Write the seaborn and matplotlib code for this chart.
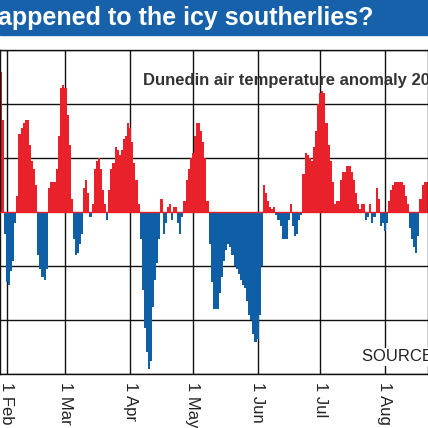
import matplotlib
matplotlib.use("Agg")
import matplotlib.pyplot as plt
import seaborn as sns
import numpy as np

# day-of-year 28 .. 232 (2016), anomaly in degC
start_day = 28
anomaly = [
    5.2, 3.4, -0.8,
    # Feb
    -2.6, -2.7, -2.2, -1.8, -0.4, 0.6, 2.9, 3.1, 3.3, 3.4, 3.4, 2.5, 1.9, 1.6,
    1.0, -1.6, -2.1, -2.4, -2.5, -2.1, 0.9, 1.1, 1.1, 1.1, 1.6, 2.8, 4.6, 4.7,
    # Mar
    4.6, 3.6, 2.5, 0.5, -1.0, -1.6, -1.5, -1.2, -0.8, 0.9, 1.2, 0.7, -0.2, 0.3,
    1.6, 1.9, 2.0, 1.6, 0.8, 0.3, -0.3, 0.8, 1.6, 1.8, 2.4, 2.3, 2.1, 2.3, 2.7,
    2.8, 3.3,
    # Apr
    3.1, 2.6, 1.8, 1.2, 0.3, -1.0, -2.9, -4.3, -5.2, -5.8, -5.5, -3.5, -2.5,
    -1.9, -1.0, 0.5, -0.8, -0.4, 0.2, 0.3, -0.3, 0.2, 0.2, -0.4, -0.8, -0.2,
    0.4, 1.2, 1.6, 2.0,
    # May
    2.2, 2.8, 3.3, 3.3, 3.0, 2.6, 2.0, 0.4, -1.2, -2.6, -3.6, -3.6, -3.6, -3.0,
    -2.4, -1.8, -1.4, -1.2, -1.3, -1.6, -2.0, -2.1, -2.3, -2.5, -2.7, -2.8,
    -3.3, -3.8, -4.0, -4.5, -4.8,
    # Jun
    -4.7, -3.8, -2.0, 1.0, 0.7, 0.4, 0.2, 0.1, 0.2, -0.1, -0.3, -0.5, -1.0,
    -1.0, -1.0, -0.3, 0.3, -0.5, -0.9, -0.8, -0.3, -0.1, 1.4, 2.2, 2.1, 2.0,
    1.9, 2.4, 3.0, 4.0,
    # Jul
    4.4, 4.5, 4.4, 3.3, 2.5, 1.9, 1.1, 0.3, 0.4, 0.4, 1.2, 1.5, 1.5, 1.7, 1.7,
    1.5, 1.2, 0.7, 0.3, 0.1, 0.3, 0.3, -0.3, -0.2, 0.3, -0.4, -0.2, 0.9, 0.5,
    -0.5, -0.4,
    # Aug
    -0.7, -0.4, 0.4, 0.8, 1.0, 1.1, 1.1, 1.1, 1.1, 1.0, 0.6, 0.3, -0.6, -1.0,
    -1.3, -1.5, -0.9, 0.5, 1.0, 1.1, 1.1,
]
month_days = [31, 59, 90, 120, 151, 181, 212]
month_labels = ["1 Feb", "1 Mar", "1 Apr", "1 May", "1 Jun", "1 Jul", "1 Aug"]

days = np.arange(start_day, start_day + len(anomaly))
vals = np.array(anomaly)

sns.set_style("white")
plt.rcParams['font.family'] = ['Liberation Sans Narrow', 'Liberation Sans', 'DejaVu Sans']

fig = plt.figure(figsize=(4.28, 4.28), dpi=100)
fig.patch.set_facecolor("white")

# title bar
fig.patches.append(plt.Rectangle((0, 1 - 35 / 428), 1, 35 / 428, transform=fig.transFigure,
                                 color="#1661a9", zorder=0))
fig.text(-0.005, 1 - 18 / 428, "appened to the icy southerlies?", color="white",
         fontsize=18, fontweight="bold", va="center", ha="left")

ax = fig.add_axes([0, 54 / 428, 1, 324 / 428])
red = "#e8212b"
blue = "#0f5fa6"
ax.bar(days, np.clip(vals, 0, None), width=1.0, color=red, linewidth=0, zorder=2)
ax.bar(days, np.clip(vals, None, 0), width=1.0, color=blue, linewidth=0, zorder=2)
ax.axhline(0, color=red, lw=1, zorder=3)

ax.set_xlim(27.65, 232.6)
ax.set_ylim(-6, 6)
ax.set_yticks([-6, -4, -2, 2, 4, 6])
ax.set_yticklabels([])
ax.set_xticks(month_days)
ax.set_xticklabels(month_labels, rotation=270, fontsize=12, color="#222222")
ax.tick_params(axis="x", length=0, pad=6)
ax.tick_params(axis="y", length=0)
ax.grid(True, color="#111111", lw=1, zorder=1)
ax.set_axisbelow(True)
for s in ax.spines.values():
    s.set_color("#111111")
    s.set_linewidth(1)

ax.text(0.333, 0.905, "Dunedin air temperature anomaly 2016", transform=ax.transAxes,
        fontsize=12, fontweight="bold", color="#333333", va="center", clip_on=True)
ax.text(0.845, 0.053, "SOURCE: NIWA", transform=ax.transAxes,
        fontsize=12, color="#222222", va="center", clip_on=True,
        bbox=dict(facecolor="white", edgecolor="none", pad=1))

fig.savefig("out.png", dpi=100)
